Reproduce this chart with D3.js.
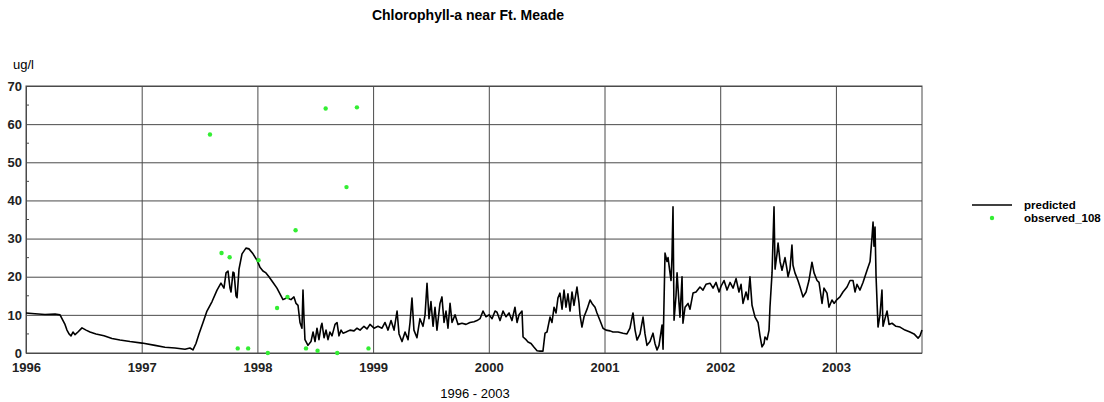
<!DOCTYPE html>
<html>
<head>
<meta charset="utf-8">
<script src="https://cdn.jsdelivr.net/npm/d3@7"></script>
<style>
  body { margin: 0; background: #fff; }
  svg { font-family: "Liberation Sans", Arial, sans-serif; }
  .axis text { font-size: 13px; font-weight: bold; fill: #222; }
  .axis path { display: none; }
  .grid-line { stroke: #4a4a4a; stroke-width: 1; }
</style>
</head>
<body>
<div class="container"></div>
<script>
const title = "Chlorophyll-a near Ft. Meade";
const yUnit = "ug/l";
const xCaption = "1996 - 2003";
const seriesNames = ["predicted", "observed_108"];
const yTicks = [0, 10, 20, 30, 40, 50, 60, 70];
const yMinorTicks = [5, 15, 25, 35, 45, 55, 65];
const xTicks = [1996, 1997, 1998, 1999, 2000, 2001, 2002, 2003];
const xEnd = 2003.744;

// predicted: [decimal year, ug/l]
const predicted = [
  [1996.000,10.5],[1996.078,10.3],[1996.164,10.1],[1996.251,10.2],[1996.294,10.0],[1996.320,8.5],
  [1996.337,7.5],[1996.354,6.0],[1996.372,5.0],[1996.389,4.5],[1996.406,5.5],[1996.424,4.8],
  [1996.449,5.5],[1996.484,6.6],[1996.519,6.0],[1996.553,5.5],[1996.605,5.0],[1996.674,4.5],
  [1996.743,3.8],[1996.812,3.4],[1996.899,3.0],[1997.003,2.6],[1997.115,2.0],[1997.201,1.5],
  [1997.288,1.3],[1997.374,1.0],[1997.417,1.3],[1997.443,0.8],[1997.469,2.5],[1997.495,5.0],
  [1997.530,8.0],[1997.564,11.0],[1997.608,13.5],[1997.651,16.5],[1997.685,18.3],[1997.711,17.0],
  [1997.729,21.0],[1997.746,21.5],[1997.763,17.0],[1997.772,16.0],[1997.789,21.2],[1997.798,21.0],
  [1997.815,15.0],[1997.824,14.5],[1997.841,22.0],[1997.867,26.0],[1997.901,27.5],[1997.927,27.3],
  [1997.962,26.0],[1997.997,24.3],[1998.022,22.5],[1998.048,21.5],[1998.074,21.0],[1998.100,20.0],
  [1998.135,18.5],[1998.169,17.0],[1998.204,15.0],[1998.221,14.0],[1998.256,14.5],[1998.290,14.0],
  [1998.316,14.7],[1998.334,13.0],[1998.351,12.5],[1998.368,8.0],[1998.385,6.5],[1998.394,16.5],
  [1998.403,9.0],[1998.411,3.5],[1998.437,2.0],[1998.463,3.0],[1998.481,5.5],[1998.498,3.0],
  [1998.515,6.5],[1998.532,3.5],[1998.550,7.0],[1998.558,7.8],[1998.576,4.0],[1998.593,6.0],
  [1998.610,3.5],[1998.627,5.5],[1998.645,4.5],[1998.671,7.5],[1998.688,8.0],[1998.705,4.5],
  [1998.723,6.0],[1998.740,5.2],[1998.766,5.5],[1998.800,6.0],[1998.835,5.8],[1998.861,6.5],
  [1998.887,6.0],[1998.921,7.0],[1998.947,6.3],[1998.973,7.5],[1999.008,6.5],[1999.042,7.0],
  [1999.077,6.5],[1999.103,8.0],[1999.129,6.0],[1999.155,8.5],[1999.181,6.0],[1999.207,11.0],
  [1999.224,5.0],[1999.250,3.0],[1999.276,5.5],[1999.302,3.5],[1999.319,8.0],[1999.336,14.4],
  [1999.353,6.0],[1999.379,4.0],[1999.405,9.0],[1999.431,7.0],[1999.449,10.0],[1999.466,18.3],
  [1999.483,9.0],[1999.500,13.5],[1999.518,7.0],[1999.535,12.0],[1999.552,6.0],[1999.578,13.0],
  [1999.595,14.7],[1999.613,8.0],[1999.630,11.0],[1999.647,6.5],[1999.665,13.0],[1999.682,8.0],
  [1999.708,10.0],[1999.734,7.5],[1999.768,7.8],[1999.803,7.5],[1999.837,8.0],[1999.872,8.2],
  [1999.898,8.5],[1999.924,9.0],[1999.950,11.0],[1999.976,9.5],[2000.002,10.0],[2000.028,9.0],
  [2000.054,11.0],[2000.071,10.7],[2000.097,8.5],[2000.123,11.0],[2000.149,9.5],[2000.175,10.5],
  [2000.200,8.5],[2000.226,12.0],[2000.244,8.0],[2000.261,10.0],[2000.287,11.0],[2000.296,4.2],
  [2000.322,3.5],[2000.339,2.9],[2000.365,2.5],[2000.391,1.5],[2000.417,0.6],[2000.443,0.5],
  [2000.468,0.5],[2000.486,5.2],[2000.503,5.5],[2000.529,9.4],[2000.546,8.0],[2000.564,12.0],
  [2000.581,10.5],[2000.598,14.5],[2000.615,15.7],[2000.633,11.5],[2000.650,16.5],[2000.667,12.0],
  [2000.684,15.5],[2000.702,11.0],[2000.719,16.0],[2000.736,12.5],[2000.762,17.3],[2000.780,13.0],
  [2000.788,10.0],[2000.805,6.8],[2000.823,9.5],[2000.849,11.5],[2000.875,13.9],[2000.892,13.0],
  [2000.918,12.0],[2000.935,10.5],[2000.961,8.5],[2000.987,6.5],[2001.013,6.0],[2001.048,5.8],
  [2001.073,5.5],[2001.117,5.5],[2001.160,5.2],[2001.194,5.0],[2001.220,6.5],[2001.246,10.5],
  [2001.264,6.0],[2001.281,3.4],[2001.307,5.0],[2001.333,9.4],[2001.350,5.0],[2001.367,2.0],
  [2001.393,3.0],[2001.419,5.2],[2001.436,2.5],[2001.454,0.8],[2001.471,2.0],[2001.497,7.3],
  [2001.506,1.0],[2001.523,26.2],[2001.540,24.0],[2001.549,25.0],[2001.566,21.0],[2001.575,19.0],
  [2001.583,25.0],[2001.592,38.3],[2001.601,8.6],[2001.618,15.0],[2001.627,21.0],[2001.644,13.0],
  [2001.652,9.4],[2001.670,20.0],[2001.678,7.8],[2001.696,12.0],[2001.722,13.0],[2001.739,11.5],
  [2001.765,15.7],[2001.791,16.0],[2001.825,17.3],[2001.851,16.5],[2001.877,18.0],[2001.912,18.3],
  [2001.938,17.0],[2001.964,18.5],[2001.990,16.0],[2002.007,17.5],[2002.033,19.0],[2002.059,16.5],
  [2002.085,18.5],[2002.111,17.0],[2002.137,19.5],[2002.162,16.0],[2002.180,18.0],[2002.197,13.0],
  [2002.223,16.0],[2002.240,14.0],[2002.257,20.0],[2002.275,12.5],[2002.301,9.4],[2002.327,8.0],
  [2002.344,4.5],[2002.361,1.6],[2002.379,2.5],[2002.387,4.2],[2002.405,3.5],[2002.422,6.0],
  [2002.430,12.0],[2002.448,21.0],[2002.465,38.3],[2002.474,22.0],[2002.491,26.0],[2002.500,28.8],
  [2002.517,24.0],[2002.534,21.7],[2002.560,25.0],[2002.577,22.0],[2002.586,20.0],[2002.603,22.0],
  [2002.620,28.3],[2002.629,23.0],[2002.646,21.0],[2002.672,19.0],[2002.690,17.3],[2002.716,14.7],
  [2002.742,16.0],[2002.767,19.0],[2002.793,23.8],[2002.811,21.0],[2002.837,19.0],[2002.854,18.5],
  [2002.871,15.0],[2002.880,13.0],[2002.897,17.0],[2002.923,15.7],[2002.940,12.0],[2002.966,13.9],
  [2002.984,13.0],[2003.009,14.0],[2003.035,14.7],[2003.061,16.0],[2003.096,17.3],[2003.122,19.0],
  [2003.148,19.0],[2003.165,16.0],[2003.182,18.0],[2003.208,16.5],[2003.234,18.5],[2003.269,21.7],
  [2003.295,24.0],[2003.312,30.4],[2003.321,34.3],[2003.329,28.0],[2003.338,33.0],[2003.347,20.0],
  [2003.364,6.8],[2003.381,10.0],[2003.398,16.5],[2003.407,7.0],[2003.424,9.0],[2003.442,11.0],
  [2003.459,7.5],[2003.485,7.8],[2003.519,7.0],[2003.554,6.8],[2003.597,6.0],[2003.640,5.5],
  [2003.675,5.0],[2003.710,3.9],[2003.727,4.5],[2003.744,6.0]
];

// observed_108: [decimal year, ug/l]
const observed = [
  [1997.59,57.3],[1997.69,26.2],[1997.76,25.1],[1997.83,1.2],[1997.92,1.2],[1998.01,24.3],
  [1998.09,0.0],[1998.17,11.8],[1998.26,14.7],[1998.33,32.2],[1998.42,1.2],[1998.52,0.6],
  [1998.59,64.1],[1998.69,0.0],[1998.77,43.5],[1998.86,64.4],[1998.96,1.2]
];

const margin = { top: 86, right: 182, bottom: 49, left: 26 };
const totalWidth = 1104;
const totalHeight = 402;
const width = totalWidth - margin.left - margin.right;
const height = totalHeight - margin.top - margin.bottom;

const svg = d3.select(".container")
  .append("svg")
  .attr("width", totalWidth)
  .attr("height", totalHeight);

const g = svg.append("g")
  .attr("transform", `translate(${margin.left},${margin.top})`);

const xScale = d3.scaleLinear().domain([xTicks[0], xEnd]).range([0, width]);
const yScale = d3.scaleLinear().domain([0, 70]).range([height, 0]);

// grid + tick labels
g.append("g")
  .attr("class", "axis")
  .call(d3.axisLeft(yScale).tickValues(yTicks).tickSize(-width).tickPadding(4).tickFormat(d3.format("d")))
  .call(s => s.selectAll(".tick line").attr("class", "grid-line"));

g.append("g")
  .attr("class", "axis")
  .attr("transform", `translate(0,${height})`)
  .call(d3.axisBottom(xScale).tickValues(xTicks).tickSize(-height).tickPadding(10).tickFormat(d3.format("d")))
  .call(s => s.selectAll(".tick line").attr("class", "grid-line"));

// minor ticks on the y axis
g.selectAll(".minor")
  .data(yMinorTicks)
  .join("line")
  .attr("x1", 0).attr("x2", 3)
  .attr("y1", d => yScale(d)).attr("y2", d => yScale(d))
  .attr("stroke", "#4a4a4a");

g.append("rect")
  .attr("width", width).attr("height", height)
  .attr("fill", "none").attr("stroke", "#4a4a4a");

const line = d3.line()
  .x(d => xScale(d[0]))
  .y(d => yScale(d[1]));

g.append("path")
  .datum(predicted)
  .attr("fill", "none")
  .attr("stroke", "#000")
  .attr("stroke-width", 1.6)
  .attr("stroke-linejoin", "round")
  .attr("d", line);

g.selectAll(".obs")
  .data(observed)
  .join("circle")
  .attr("cx", d => xScale(d[0]))
  .attr("cy", d => yScale(d[1]))
  .attr("r", 2.2)
  .attr("fill", "#33ee33");

// texts
svg.append("text")
  .attr("x", 468).attr("y", 20)
  .attr("text-anchor", "middle")
  .attr("font-size", 14).attr("font-weight", "bold")
  .text(title);

svg.append("text")
  .attr("x", 13).attr("y", 69)
  .attr("font-size", 13)
  .text(yUnit);

svg.append("text")
  .attr("x", 475).attr("y", 398)
  .attr("text-anchor", "middle")
  .attr("font-size", 13)
  .text(xCaption);

// legend
const legend = svg.append("g").attr("transform", "translate(972,205)");
legend.append("line")
  .attr("x1", 0).attr("x2", 40)
  .attr("stroke", "#000").attr("stroke-width", 1.6);
legend.append("circle")
  .attr("cx", 20).attr("cy", 13).attr("r", 2.2)
  .attr("fill", "#33ee33");
legend.selectAll(".lbl")
  .data(seriesNames)
  .join("text")
  .attr("x", 52)
  .attr("y", (d, i) => 4 + i * 13)
  .attr("font-size", 11.5).attr("font-weight", "bold")
  .text(d => d);
</script>
</body>
</html>
